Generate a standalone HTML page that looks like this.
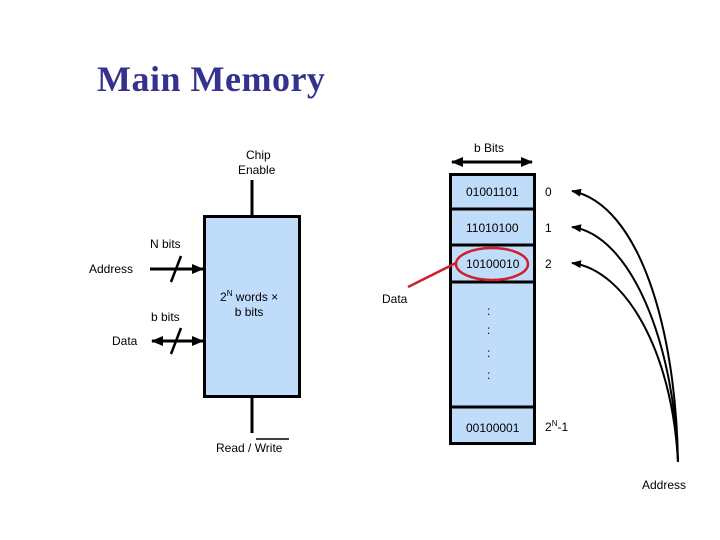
<!DOCTYPE html>
<html><head><style>
body{margin:0;width:720px;height:540px;background:#fff;overflow:hidden;position:relative;font-family:"Liberation Sans",sans-serif}
.t{position:absolute;font-size:12px;color:#000;white-space:nowrap}
</style></head><body>
<div style="position:absolute;left:97px;top:58px;font-family:'Liberation Serif',serif;font-weight:bold;font-size:36px;letter-spacing:0.5px;color:#33338f">Main Memory</div>
<svg width="720" height="540" style="position:absolute;left:0;top:0">
<defs>
<marker id="a" markerWidth="10" markerHeight="8" refX="9" refY="4" orient="auto" markerUnits="userSpaceOnUse"><path d="M0,0 L10,4 L0,8z" fill="#000"/></marker>
<marker id="s" markerWidth="12" markerHeight="10" refX="11" refY="5" orient="auto-start-reverse" markerUnits="userSpaceOnUse"><path d="M0,0 L12,5 L0,10z" fill="#000"/></marker>
</defs>
<rect x="204.5" y="216.5" width="95" height="180" fill="#bfdcfb" stroke="#000" stroke-width="3"/>
<line x1="252" y1="180" x2="252" y2="215" stroke="#000" stroke-width="3"/>
<line x1="252" y1="398" x2="252" y2="433" stroke="#000" stroke-width="3"/>
<line x1="150" y1="269" x2="203" y2="269" stroke="#000" stroke-width="3" marker-end="url(#s)"/>
<line x1="171" y1="282" x2="181" y2="256" stroke="#000" stroke-width="2.5"/>
<line x1="152" y1="341" x2="203" y2="341" stroke="#000" stroke-width="3" marker-end="url(#s)" marker-start="url(#s)"/>
<line x1="171" y1="354" x2="181" y2="328" stroke="#000" stroke-width="2.5"/>
<line x1="256" y1="439" x2="289" y2="439" stroke="#000" stroke-width="1.5"/>
<line x1="452" y1="162" x2="532" y2="162" stroke="#000" stroke-width="3" marker-end="url(#s)" marker-start="url(#s)"/>
<rect x="450.5" y="174.5" width="84" height="269" fill="#bfdcfb" stroke="#000" stroke-width="3"/>
<line x1="450" y1="209" x2="535" y2="209" stroke="#000" stroke-width="3"/>
<line x1="450" y1="245" x2="535" y2="245" stroke="#000" stroke-width="3"/>
<line x1="450" y1="282" x2="535" y2="282" stroke="#000" stroke-width="3"/>
<line x1="450" y1="407" x2="535" y2="407" stroke="#000" stroke-width="3"/>
<ellipse cx="492" cy="264" rx="36" ry="16" fill="none" stroke="#d0202a" stroke-width="2.5"/>
<line x1="408" y1="287" x2="456" y2="263" stroke="#d0202a" stroke-width="2.5"/>
<g fill="none" stroke="#000" stroke-width="2">
<path d="M678,462 C676,330 640,205 572,191" marker-end="url(#a)"/>
<path d="M678,462 C674,340 630,235 572,227" marker-end="url(#a)"/>
<path d="M678,462 C672,350 625,270 572,263" marker-end="url(#a)"/>
</g>
</svg>
<div class="t" style="left:238px;top:148px;text-align:center;line-height:15px">&nbsp;Chip<br>Enable</div>
<div class="t" style="left:150px;top:237px">N bits</div>
<div class="t" style="left:89px;top:262px">Address</div>
<div class="t" style="left:151px;top:310px">b bits</div>
<div class="t" style="left:112px;top:334px">Data</div>
<div class="t" style="left:220px;top:286px;text-align:center;line-height:15px">2<sup style="font-size:8px">N</sup> words ×<br>b bits</div>
<div class="t" style="left:216px;top:441px">Read / Write</div>
<div class="t" style="left:382px;top:292px">Data</div>
<div class="t" style="left:474px;top:141px">b Bits</div>
<div class="t" style="left:466px;top:185px">01001101</div>
<div class="t" style="left:466px;top:221px">11010100</div>
<div class="t" style="left:466px;top:257px">10100010</div>
<div class="t" style="left:466px;top:421px">00100001</div>
<div class="t" style="left:545px;top:185px">0</div>
<div class="t" style="left:545px;top:221px">1</div>
<div class="t" style="left:545px;top:257px">2</div>
<div class="t" style="left:545px;top:419px">2<sup style="font-size:8px">N</sup>-1</div>
<div class="t" style="left:487px;top:304px">:</div>
<div class="t" style="left:487px;top:323px">:</div>
<div class="t" style="left:487px;top:346px">:</div>
<div class="t" style="left:487px;top:368px">:</div>
<div class="t" style="left:642px;top:478px">Address</div>
</body></html>
